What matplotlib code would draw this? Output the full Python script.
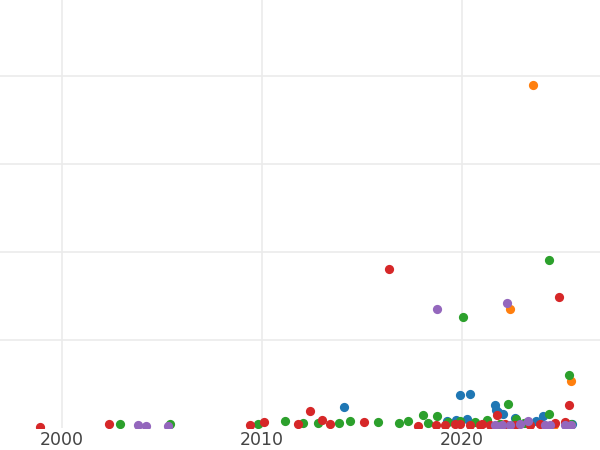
import matplotlib
matplotlib.use("Agg")
import matplotlib.pyplot as plt

# year, value per series
blue_x = [2014.1, 2019.9, 2020.4, 2019.25, 2019.7, 2020.25, 2021.65, 2021.7, 2021.8, 2022.05,
          2022.65, 2023.2, 2024.05, 2023.7, 2025.5]
blue_y = [24, 37.5, 38.6, 8, 9, 10, 26, 21, 18, 16, 11, 6, 14, 8, 4]

orange_x = [2023.55, 2022.4, 2025.45, 2021.9, 2024.6]
orange_y = [390, 135, 53, 4, 3]

green_x = [2002.9, 2005.4, 2009.8, 2011.15, 2012.05, 2012.8, 2013.85, 2014.4, 2015.8, 2016.85,
           2017.3, 2018.05, 2018.3, 2018.75, 2019.3, 2019.9, 2020.65, 2021.25, 2020.05, 2022.3,
           2022.7, 2024.35, 2024.35, 2025.35, 2025.45, 2023.1, 2021.9]
green_y = [4, 4, 4, 8, 6, 6, 6, 8, 7, 6,
           8, 15, 6, 14, 7, 8, 7, 9, 126, 27,
           10, 191, 16, 60, 4, 6, 5]

red_x = [1998.9, 2002.35, 2009.4, 2010.1, 2011.8, 2012.4, 2013.0, 2013.4, 2015.1, 2016.35,
         2017.8, 2018.7, 2019.15, 2019.65, 2020.4, 2020.9, 2021.4, 2021.75, 2022.15, 2022.65,
         2023.4, 2023.9, 2024.65, 2025.15, 2024.85, 2025.35, 2019.9, 2021.0]
red_y = [1, 4, 3, 7, 5, 19, 9, 5, 7, 181,
         2, 3, 3, 4, 3, 3, 3, 15, 4, 3,
         3, 4, 6, 7, 149, 26, 5, 4]

purple_x = [2003.8, 2004.2, 2005.3, 2018.75, 2022.25, 2021.65, 2022.0, 2022.4, 2022.9, 2023.3,
            2024.15, 2024.4, 2025.15, 2025.45]
purple_y = [3, 2, 2, 135, 142, 3, 3, 3, 4, 8,
            3, 3, 3, 3]

series = [
    (blue_x, blue_y, "#1f77b4"),
    (orange_x, orange_y, "#ff7f0e"),
    (green_x, green_y, "#2ca02c"),
    (red_x, red_y, "#d62728"),
    (purple_x, purple_y, "#9467bd"),
]

fig = plt.figure(figsize=(6, 4.5), dpi=100)
ax = fig.add_axes([0, 1 - 428 / 450, 1, 428 / 450])

for xs, ys, c in series:
    ax.scatter(xs, ys, s=44, color=c, linewidths=0, zorder=3)

ax.set_xlim(1996.9, 2026.9)
ax.set_ylim(0, 486.4)
ax.set_xticks([2000, 2010, 2020])
ax.set_yticks([100, 200, 300, 400])
ax.grid(True, color="#ebebeb", linewidth=1.2, zorder=0)
ax.set_axisbelow(True)
for sp in ax.spines.values():
    sp.set_visible(False)
ax.tick_params(axis="both", length=0)
ax.tick_params(axis="x", labelsize=12.5, labelcolor="#444444", pad=2.5)
ax.tick_params(axis="y", labelleft=False)

fig.savefig("out.png", dpi=100)
